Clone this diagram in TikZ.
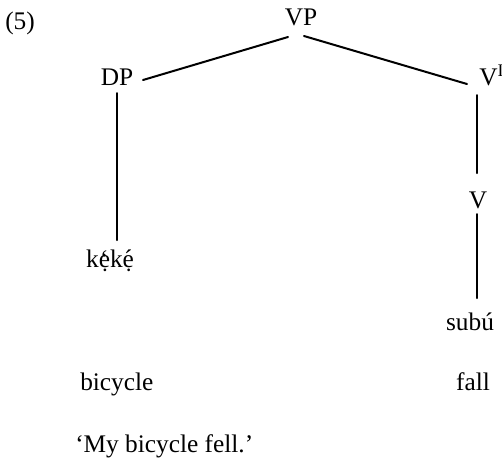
\documentclass[tikz,border=0pt]{standalone}
\usepackage{fontspec}
\setmainfont{Liberation Serif}
\usetikzlibrary{positioning}
\tikzset{
  treelabel/.style={inner sep=0pt,anchor=base,font=\fontsize{19}{23}\selectfont},
  branch/.style={line width=1.5pt,line cap=round}
}
% tone marks over e with dot below
\newcommand\dotgrave{\accent"60 ẹ}
\newcommand\dotacute{\accent"B4 ẹ}

\begin{document}
\begin{tikzpicture}[x=0.75pt,y=-0.75pt]
        \useasboundingbox (0,0) rectangle (502,462);
        % labels of the tree
        \node[treelabel,anchor=base west] (ex) at (5,29) {(5)};
        \node[treelabel] (vp) at (301,25) {VP};
        \node[treelabel] (dp) at (117,85) {DP};
        \node[treelabel,anchor=base west] (vbar) at (479,85) {V\textsuperscript{I}};
        \node[treelabel] (v) at (478,208) {V};
        \node[treelabel] (keke) at (110,267) {k\dotgrave k\dotacute};
        \node[treelabel] (subu) at (470,330) {subú};
        \node[treelabel,anchor=base west] (bicycle) at (80,390) {bicycle};
        \node[treelabel] (fall) at (473,390) {fall};
        \node[treelabel,anchor=base west] (gloss) at (75,452) {‘My bicycle fell.’};
        % branches
        \draw[branch] ([shift={(-13,12)}]vp.base) -- ([shift={(26,-5)}]dp.base);
        \draw[branch] ([shift={(3,11)}]vp.base) -- ([shift={(-12,-1)}]vbar.base west);
        \draw[branch] ([shift={(0,8)}]dp.base) -- ([shift={(7,-27)}]keke.base);
        \draw[branch] ([shift={(-2,10)}]vbar.base west) -- ([shift={(-1,-35)}]v.base);
        \draw[branch] ([shift={(-1,6)}]v.base) -- ([shift={(7,-32)}]subu.base);
      \end{tikzpicture}
\end{document}
